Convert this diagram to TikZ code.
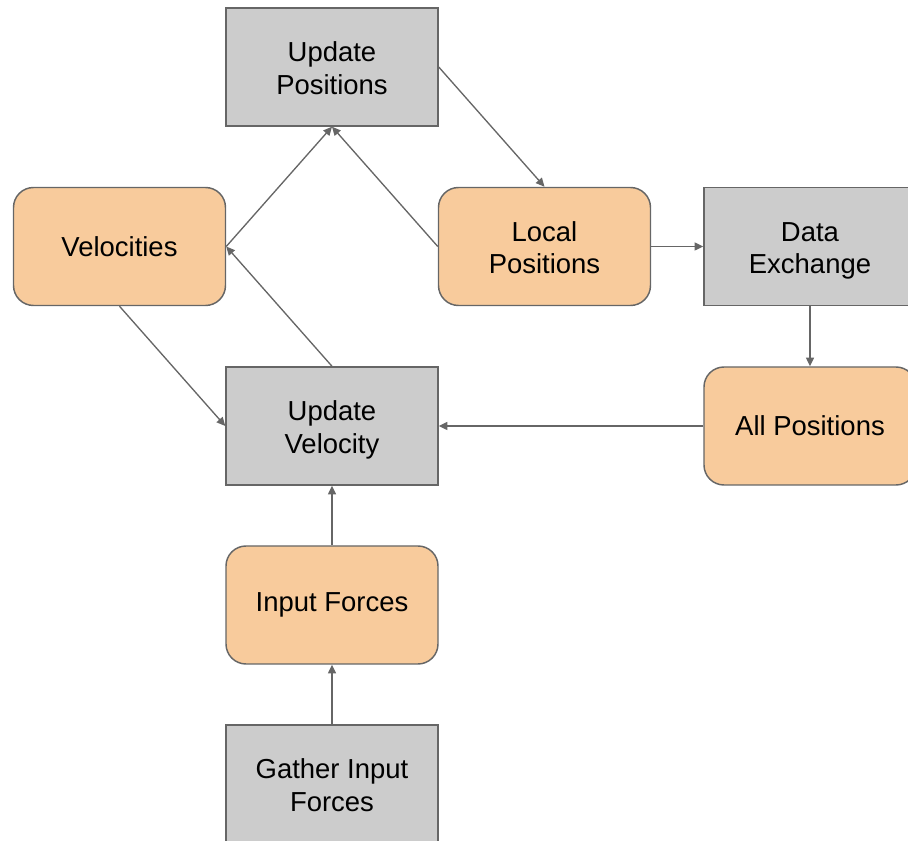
\documentclass[tikz,border=0pt]{standalone}
\usepackage{fontspec}
\setmainfont{Liberation Sans}
\usetikzlibrary{arrows.meta}
\definecolor{boxgray}{HTML}{CCCCCC}
\definecolor{dataorange}{HTML}{F8CB9C}
\definecolor{edgegray}{HTML}{666666}
% fixed struts so that every two-line label sits at the same height
\newcommand{\firstlinestrut}{\rule{0pt}{21.4pt}}
\newcommand{\lastlinestrut}{\rule[-5pt]{0pt}{5pt}}
\newcommand{\twolines}[2]{\firstlinestrut#1\\#2\lastlinestrut}
\tikzset{
  block/.style={draw=edgegray, line width=1.1pt, minimum width=159pt, minimum height=88.5pt,
    inner sep=0pt, align=center, font=\fontsize{20.6}{24.6}\selectfont},
  task/.style={block, fill=boxgray},
  data/.style={block, fill=dataorange, rounded corners=15pt},
  flow/.style={draw=edgegray, line width=1pt, -{Triangle[length=6.5pt,width=6pt]}}
}
\begin{document}
\begin{tikzpicture}[x=0.75pt,y=-0.75pt]
\useasboundingbox (0,0) rectangle (908,841);
\clip (0,0) rectangle (908,841);
\node[task] (up) at (332,67) {\twolines{Update}{Positions}};
\node[data] (vel) at (119.5,246.5) {Velocities};
\node[data] (lp) at (544.5,246.5) {\twolines{Local}{Positions}};
\node[task] (dx) at (810,246.5) {\twolines{Data}{Exchange}};
\node[data] (ap) at (810,426) {All Positions};
\node[task] (uv) at (332,426) {\twolines{Update}{Velocity}};
\node[data] (inf) at (332,605) {Input Forces};
\node[task] (gif) at (332,784) {\twolines{Gather Input}{Forces}};
\draw[flow] (vel.east) -- (up.south);
\draw[flow] (lp.west) -- (up.south);
\draw[flow] (up.east) -- (lp.north);
\draw[flow] (lp.east) -- (dx.west);
\draw[flow] (dx.south) -- (ap.north);
\draw[flow] (ap.west) -- (uv.east);
\draw[flow] (vel.south) -- (uv.west);
\draw[flow] (uv.north) -- (vel.east);
\draw[flow] (inf.north) -- (uv.south);
\draw[flow] (gif.north) -- (inf.south);
\end{tikzpicture}
\end{document}
